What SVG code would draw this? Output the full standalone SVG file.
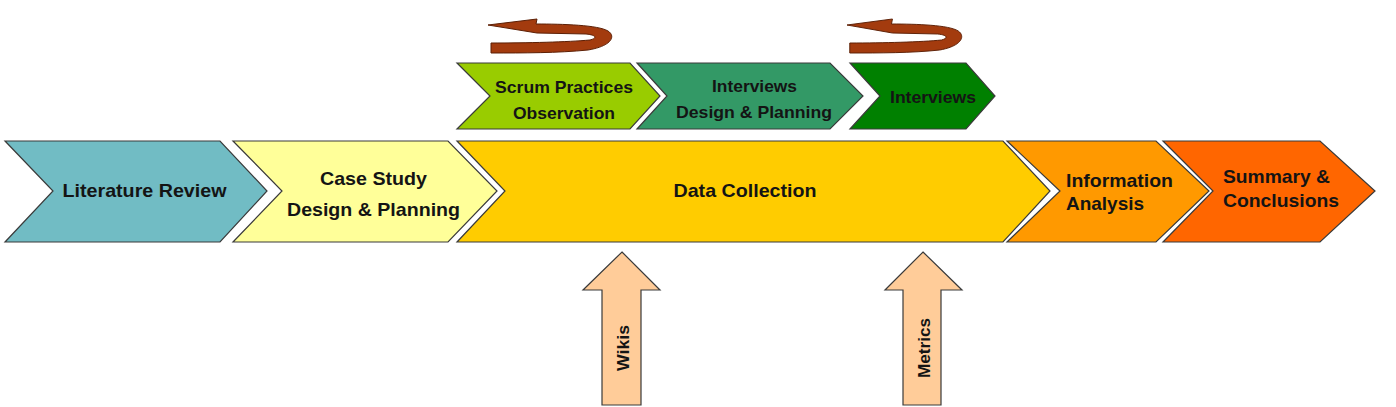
<svg xmlns="http://www.w3.org/2000/svg" width="1396" height="407" viewBox="0 0 1396 407">
<style>
.chev{stroke:#3a3a3a;stroke-width:1.2;stroke-linejoin:miter}
.up{fill:#FFCC99;stroke:#3a3a3a;stroke-width:1.2}
.t{font-family:"Liberation Sans",Arial,sans-serif;font-weight:bold;fill:#141414}
.m{font-size:18.5px}
.s{font-size:16.5px}
.loop{fill:#A33B0E;stroke:#5C1F05;stroke-width:1}
</style>
<defs>
<path id="loopArrow" class="loop" d="M0,0 L49,-6 L48,-1 C75,-1 110,0 120,6 C128,11 124,21 100,25 C70,28 35,28 3,28 L3,18 C40,18 80,17 102,15 C110,13 108,10 98,9 L49,8 Z"/>
</defs>
<rect width="1396" height="407" fill="#ffffff"/>

<g id="connectors">
<use href="#loopArrow" transform="translate(488,25)"/>
<use href="#loopArrow" transform="translate(847,25) scale(0.927,1)"/>
</g>

<g id="literature-review">
<polygon class="chev" fill="#71BCC4" points="5,141 220,141 267,191 220,242 5,242 53,191"/>
<text class="t m" x="144.5" y="197" text-anchor="middle" textLength="164" lengthAdjust="spacingAndGlyphs">Literature Review</text>
</g>
<g id="case-study">
<polygon class="chev" fill="#FFFF99" points="233,141 448,141 497,191 448,242 233,242 282,191"/>
<text class="t m" x="373.5" y="185" text-anchor="middle" textLength="107" lengthAdjust="spacingAndGlyphs">Case Study</text>
<text class="t m" x="373.5" y="216" text-anchor="middle" textLength="173" lengthAdjust="spacingAndGlyphs">Design &amp; Planning</text>
</g>
<g id="data-collection">
<polygon class="chev" fill="#FFCC00" points="457,141 1003,141 1050,191 1003,242 457,242 505,191"/>
<text class="t m" x="745" y="197" text-anchor="middle" textLength="143" lengthAdjust="spacingAndGlyphs">Data Collection</text>
</g>
<g id="information-analysis">
<polygon class="chev" fill="#FF9900" points="1007,141 1156,141 1209,191 1156,242 1007,242 1060,191"/>
<text class="t m" x="1066" y="187" textLength="107" lengthAdjust="spacingAndGlyphs">Information</text>
<text class="t m" x="1066" y="210" textLength="78" lengthAdjust="spacingAndGlyphs">Analysis</text>
</g>
<g id="summary-conclusions">
<polygon class="chev" fill="#FF6600" points="1163,141 1320,141 1375,191 1320,242 1163,242 1213,191"/>
<text class="t m" x="1223" y="183" textLength="107" lengthAdjust="spacingAndGlyphs">Summary &amp;</text>
<text class="t m" x="1223" y="207" textLength="116" lengthAdjust="spacingAndGlyphs">Conclusions</text>
</g>

<g id="scrum-practices">
<polygon class="chev" fill="#99CC00" points="457,63 630,63 660,96 630,129 457,129 490,96"/>
<text class="t s" x="564" y="93" text-anchor="middle" textLength="138" lengthAdjust="spacingAndGlyphs">Scrum Practices</text>
<text class="t s" x="564" y="119" text-anchor="middle" textLength="102" lengthAdjust="spacingAndGlyphs">Observation</text>
</g>
<g id="interviews-design">
<polygon class="chev" fill="#339966" points="637,63 830,63 863,96 830,129 637,129 667,96"/>
<text class="t s" x="754.5" y="92" text-anchor="middle" textLength="85" lengthAdjust="spacingAndGlyphs">Interviews</text>
<text class="t s" x="754" y="118" text-anchor="middle" textLength="156" lengthAdjust="spacingAndGlyphs">Design &amp; Planning</text>
</g>
<g id="interviews">
<polygon class="chev" fill="#008000" points="850,63 966,63 995,96 966,129 850,129 880,96"/>
<text class="t s" x="933" y="103" text-anchor="middle" textLength="86" lengthAdjust="spacingAndGlyphs">Interviews</text>
</g>

<g id="wikis">
<polygon class="up" points="622,252 660,290 641,290 641,405 602,405 602,290 583,290"/>
<text class="t" font-size="17" transform="translate(629,348) rotate(-90)" text-anchor="middle" textLength="46" lengthAdjust="spacingAndGlyphs">Wikis</text>
</g>
<g id="metrics">
<polygon class="up" points="923,252 962,290 941,290 941,405 903,405 903,290 885,290"/>
<text class="t" font-size="17" transform="translate(930,348) rotate(-90)" text-anchor="middle" textLength="60" lengthAdjust="spacingAndGlyphs">Metrics</text>
</g>
</svg>
